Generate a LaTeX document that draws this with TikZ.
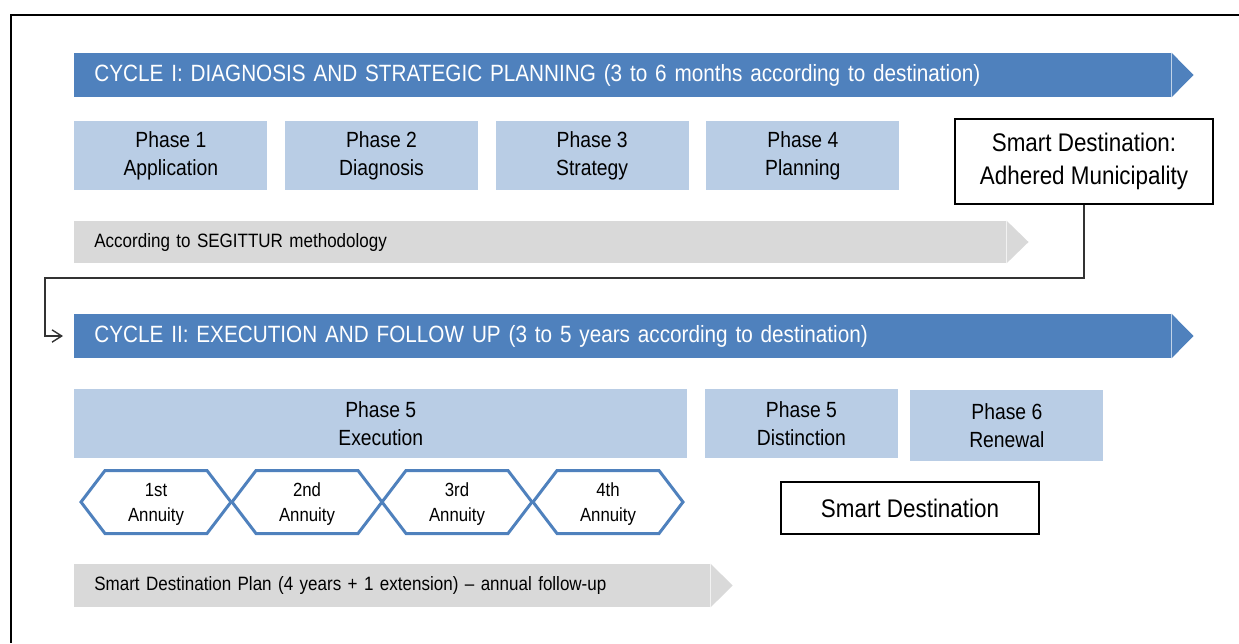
\documentclass[tikz,border=0pt]{standalone}
\usepackage{fontspec}
\setmainfont[FakeStretch=0.88]{Liberation Sans}
\usepackage{tikz}
\usetikzlibrary{arrows.meta,positioning,calc}
\definecolor{cycleblue}{HTML}{4F81BD}
\definecolor{phaseblue}{HTML}{B9CDE5}
\definecolor{notegrey}{HTML}{D9D9D9}
\tikzset{
  cyclebar/.style={
    rectangle, fill=cycleblue, text=white,
    minimum width=21.94cm, minimum height=0.88cm,
    inner xsep=0.4cm, inner ysep=0pt,
    text width=21.14cm, align=left,
    font=\fontsize{13.4}{16}\selectfont
  },
  phasebox/.style={
    rectangle, fill=phaseblue,
    minimum width=#1, minimum height=1.38cm,
    inner sep=0pt, align=center,
    font=\fontsize{12.5}{15.9}\selectfont
  },
  phasebox/.default=3.86cm,
  destbox/.style={
    rectangle, draw=black, line width=0.8pt, fill=white,
    minimum width=5.16cm, minimum height=#1,
    inner sep=0pt, align=center,
    font=\fontsize{14.5}{18.8}\selectfont
  },
  destbox/.default=1.7cm,
  notebar/.style={
    rectangle, fill=notegrey,
    minimum width=#1, minimum height=0.84cm,
    inner xsep=0.4cm, inner ysep=0pt,
    font=\fontsize{11}{13}\selectfont
  },
  annuity/.style={draw=cycleblue, line width=1.7pt, fill=white, line join=miter},
  annuitytext/.style={align=center, inner sep=0pt,
    font=\fontsize{10.85}{14.2}\selectfont},
  flowarrow/.style={-{Straight Barb[length=5.5pt,width=7pt]}, line width=0.8pt, color=black!80},
}

\begin{document}
\begin{tikzpicture}[x=0.02cm, y=-0.02cm]
\useasboundingbox (0,0) rectangle (1239,643);

% frame
\draw[line width=1.1pt] (1239,15) -- (11,15) -- (11,643);

% ---- cycle I ----
\node[cyclebar, anchor=west] (cyc1) at (74,75)
  {CYCLE I: DIAGNOSIS AND STRATEGIC PLANNING (3 to 6 months according to destination)};
\fill[cycleblue] (cyc1.north east) -- ($(cyc1.east)+(22,0)$) -- (cyc1.south east) -- cycle;

\node[phasebox, anchor=north west] (p1) at (74,121) {Phase 1\\Application};
\node[phasebox, right=0.34cm of p1] (p2) {Phase 2\\Diagnosis};
\node[phasebox, right=0.34cm of p2] (p3) {Phase 3\\Strategy};
\node[phasebox, right=0.34cm of p3] (p4) {Phase 4\\Planning};

\node[destbox] (adhered) at (1084,161.5) {Smart Destination:\\Adhered Municipality};

\node[notebar=18.64cm, anchor=west, text width=17.84cm, align=left] (method) at (74,242)
  {According to SEGITTUR methodology};
\fill[notegrey] (method.north east) -- ($(method.east)+(22,0)$) -- (method.south east) -- cycle;

% ---- cycle II ----
\node[cyclebar, anchor=west] (cyc2) at (74,336)
  {CYCLE II: EXECUTION AND FOLLOW UP (3 to 5 years according to destination)};
\fill[cycleblue] (cyc2.north east) -- ($(cyc2.east)+(22,0)$) -- (cyc2.south east) -- cycle;

% adhered municipality leads into cycle II
\coordinate (bend) at (45,278);
\draw[flowarrow] (adhered.south) |- (bend) |- ([xshift=-0.22cm]cyc2.west);

\node[phasebox=12.26cm, anchor=north west] (p5) at (74,389) {Phase 5\\Execution};
\node[phasebox, right=0.34cm of p5] (p5d) {Phase 5\\Distinction};
\node[phasebox, minimum height=1.42cm, anchor=north west] (p6) at (910,390) {Phase 6\\Renewal};

\node[destbox=1.04cm] (smart) at (910,508) {Smart Destination};

% annuities
\foreach \x/\lbl [count=\i] in {81/1st, 232/2nd, 382/3rd, 533/4th} {
  \draw[annuity] (\x,502) -- ++(24,-31.5) -- ++(102,0) -- ++(24,31.5)
    -- ++(-24,31.5) -- ++(-102,0) -- cycle;
  \node[annuitytext] (ann\i) at (\x+75,504) {\lbl\\Annuity};
}

\node[notebar=12.72cm, minimum height=0.86cm, anchor=west, text width=11.92cm, align=left] (plan) at (74,585.5)
  {Smart Destination Plan (4 years + 1 extension) -- annual follow-up};
\fill[notegrey] (plan.north east) -- ($(plan.east)+(22,0)$) -- (plan.south east) -- cycle;

\end{tikzpicture}
\end{document}
